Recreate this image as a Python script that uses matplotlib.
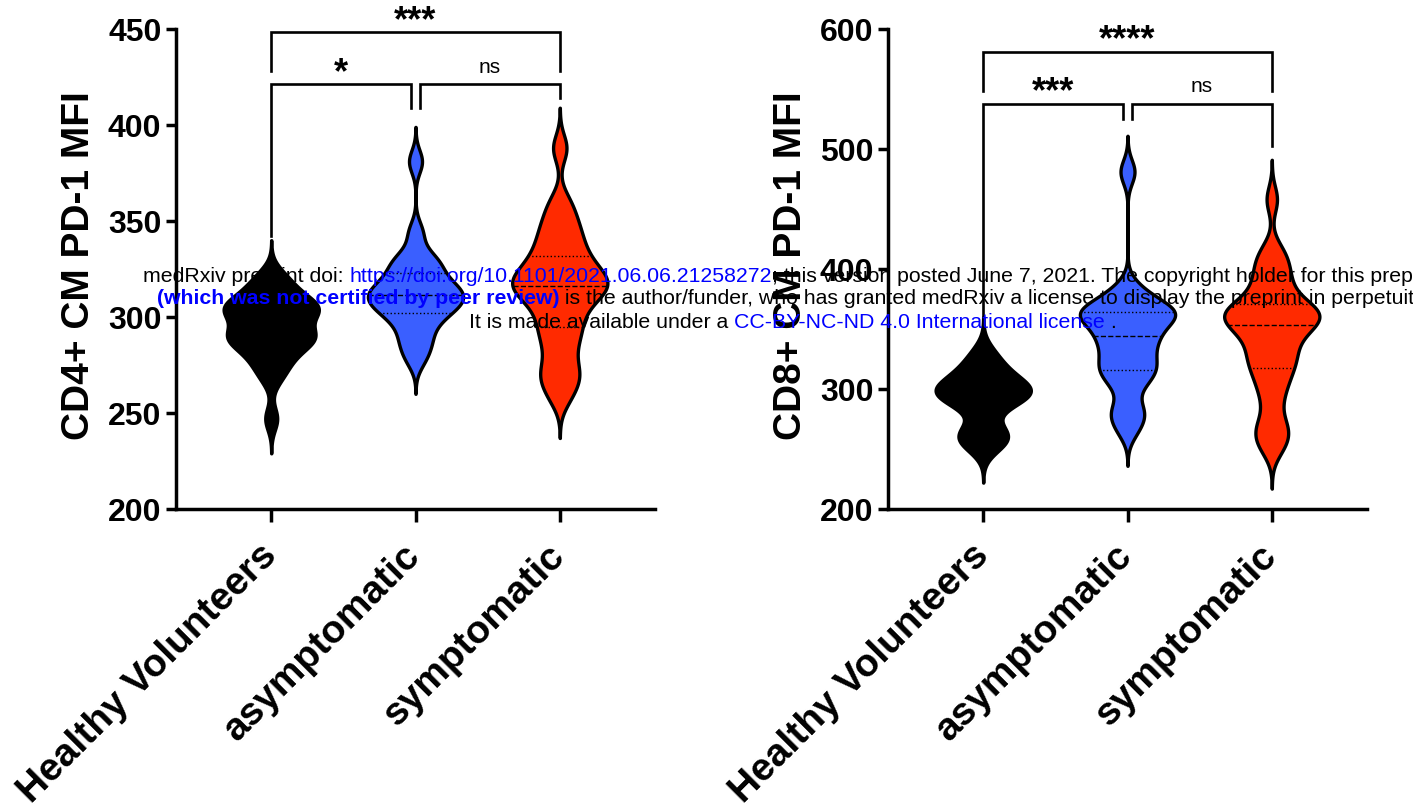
import numpy as np
import matplotlib
matplotlib.use('Agg')
import matplotlib.pyplot as plt

plt.rcParams['font.family'] = ['Liberation Sans', 'DejaVu Sans']

# ---------------- data ----------------
categories = ['Healthy Volunteers', 'asymptomatic', 'symptomatic']
violin_colors = ['#000000', '#3A5FFF', '#FF2A00']

# CD4+ CM PD-1 MFI (estimated individual values)
cd4_healthy = [247, 268, 274, 278, 282, 285, 287, 289, 290, 291, 292, 295, 300,
               302, 303, 304, 305, 306, 308, 311, 314, 318, 322]
cd4_asymptomatic = [278, 285, 290, 296, 300, 303, 305, 307, 309, 311, 312, 314,
                    316, 318, 322, 326, 329, 332, 344, 381]
cd4_symptomatic = [258, 266, 270, 276, 284, 290, 295, 300, 305, 309, 312, 314, 316,
                   318, 320, 322, 325, 328, 332, 336, 341, 346, 352, 360, 388]

# CD8+ CM PD-1 MFI (estimated individual values)
cd8_healthy = [252, 258, 262, 266, 284, 290, 294, 296, 298, 300, 303, 308, 313, 320, 330]
cd8_asymptomatic = [266, 278, 284, 302, 310, 316, 320, 326, 334, 340, 344, 350, 356,
                    360, 362, 364, 366, 369, 375, 384, 481]
cd8_symptomatic = [250, 258, 266, 272, 288, 300, 308, 316, 322, 326, 332, 338, 344,
                   348, 352, 355, 358, 360, 362, 364, 366, 368, 372, 378, 386, 392,
                   400, 408, 416, 458]

cd4_bandwidth = [6, 6, 7]
cd8_bandwidth = [10, 10, 11]

# significance annotations: (i, j, bar_y, left_leg_end, right_leg_end, label)
cd4_brackets = [(0, 2, 448.4, 428.1, 428.1, '***'),
                (0, 0.97, 421.4, 342, 409, '*'),
                (1.03, 2, 421.4, 409, 414, 'ns')]
cd4_label_y = [454.3, 427.0, 430.7]
cd8_brackets = [(0, 2, 581, 548.6, 548.6, '****'),
                (0, 0.97, 537.2, 350, 525, '***'),
                (1.03, 2, 537.2, 525, 502.8, 'ns')]
cd8_label_y = [591.5, 547.5, 552.5]

panels = [
    dict(groups=[cd4_healthy, cd4_asymptomatic, cd4_symptomatic], bw=cd4_bandwidth,
         ylim=(200, 450), yticks=[200, 250, 300, 350, 400, 450],
         ylabel='CD4+ CM PD-1 MFI', brackets=cd4_brackets, label_y=cd4_label_y,
         rect=[176 / 1413, 1 - 510 / 812, 479 / 1413, 480 / 812]),
    dict(groups=[cd8_healthy, cd8_asymptomatic, cd8_symptomatic], bw=cd8_bandwidth,
         ylim=(200, 600), yticks=[200, 300, 400, 500, 600],
         ylabel='CD8+ CM PD-1 MFI', brackets=cd8_brackets, label_y=cd8_label_y,
         rect=[888 / 1413, 1 - 510 / 812, 479 / 1413, 480 / 812]),
]


def kde_profile(samples, bw, n=600):
    s = np.asarray(samples, float)
    grid = np.linspace(s.min() - 3 * bw, s.max() + 3 * bw, n)
    dens = np.exp(-0.5 * ((grid[:, None] - s[None, :]) / bw) ** 2).sum(axis=1)
    return grid, dens / dens.max()


fig = plt.figure(figsize=(14.13, 8.12), dpi=100)
half_width = 0.33

for p in panels:
    ax = fig.add_axes(p['rect'])
    ax.patch.set_alpha(0)
    for i, (vals, bw, col) in enumerate(zip(p['groups'], p['bw'], violin_colors)):
        grid, dens = kde_profile(vals, bw)
        w = dens * half_width
        ax.fill_betweenx(grid, i - w, i + w, facecolor=col, edgecolor='black',
                         linewidth=2.4, zorder=2)
        q1, med, q3 = np.percentile(vals, [25, 50, 75])
        for q, ls in [(q1, ':'), (med, '--'), (q3, ':')]:
            qw = np.interp(q, grid, w)
            ax.plot([i - qw, i + qw], [q, q], color='black', linestyle=ls,
                    linewidth=1.0, zorder=3)

    for (a, b, y, la, lb, lab), ty in zip(p['brackets'], p['label_y']):
        ax.plot([a, a, b, b], [la, y, y, lb], color='black', linewidth=1.9,
                solid_joinstyle='miter', clip_on=False, zorder=4)
        if lab == 'ns':
            ax.text((a + b) / 2, ty, lab, ha='center', va='center', fontsize=15,
                    clip_on=False)
        else:
            ax.text((a + b) / 2, ty, lab, ha='center', va='center', fontsize=26,
                    fontweight='bold', clip_on=False)

    ax.set_xlim(-0.66, 2.66)
    ax.set_ylim(*p['ylim'])
    ax.set_yticks(p['yticks'])
    ax.set_xticks(range(3))
    ax.set_xticklabels(categories, rotation=45, ha='right', va='center',
                       rotation_mode='anchor', fontsize=28, fontweight='bold')
    for t in ax.get_yticklabels():
        t.set_fontweight('bold')
        t.set_fontsize(23)
    ax.spines['top'].set_visible(False)
    ax.spines['right'].set_visible(False)
    for s in ['left', 'bottom']:
        ax.spines[s].set_linewidth(2.5)
    ax.tick_params(axis='y', length=7.5, width=2.5, pad=3)
    ax.tick_params(axis='x', length=9, width=2.5, pad=20)
    ax.set_ylabel(p['ylabel'], fontsize=28, fontweight='bold')
    ax.yaxis.set_label_coords(-0.165, 0.51)

# ---------------- medRxiv watermark ----------------
wm_lines = [
    [("medRxiv preprint doi: ", 'black', 'normal'),
     ("https://doi.org/10.1101/2021.06.06.21258272", 'blue', 'normal'),
     ("; this version posted June 7, 2021. The copyright holder for this preprint", 'black', 'normal')],
    [("(which was not certified by peer review)", 'blue', 'bold'),
     (" is the author/funder, who has granted medRxiv a license to display the preprint in perpetuity.", 'black', 'normal')],
    [("It is made available under a ", 'black', 'normal'),
     ("CC-BY-NC-ND 4.0 International license", 'blue', 'normal'),
     (" .", 'black', 'normal')],
]
wm_y = [276, 298, 322]
wm_center_x = 793
wm_size = 15.3

renderer = fig.canvas.get_renderer()


def text_width(s, weight):
    t1 = fig.text(0, 0, '|' + s + '|', fontsize=wm_size, fontweight=weight)
    t2 = fig.text(0, 0, '||', fontsize=wm_size, fontweight=weight)
    w = t1.get_window_extent(renderer).width - t2.get_window_extent(renderer).width
    t1.remove()
    t2.remove()
    return w


W, H = fig.canvas.get_width_height()
for pieces, ypx in zip(wm_lines, wm_y):
    widths = [text_width(s, wt) for s, c, wt in pieces]
    x = wm_center_x - sum(widths) / 2
    for (s, c, wt), w in zip(pieces, widths):
        fig.text(x / W, 1 - ypx / H, s, color=c, fontweight=wt, fontsize=wm_size,
                 ha='left', va='center')
        x += w

fig.savefig('out.png', dpi=100)
